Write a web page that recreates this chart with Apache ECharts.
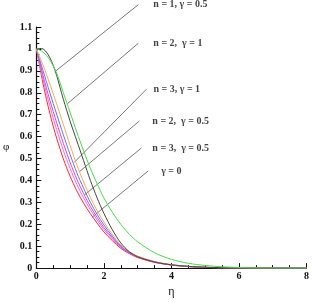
<!DOCTYPE html>
<html><head><meta charset="utf-8">
<script src="https://cdn.jsdelivr.net/npm/echarts@6/dist/echarts.min.js"></script>
<style>html,body{margin:0;padding:0;background:#fff}#c{width:312px;height:303px}</style>
</head><body><div id="c"></div>
<script>
var eta = [0,0.1,0.2,0.3,0.4,0.5,0.6,0.8,1.0,1.2,1.4,1.6,1.8,2.0,2.25,2.5,2.75,3,3.5,4,4.5,5,5.5,6,7,8];
var phiRed     = [1,0.92,0.84,0.77,0.706,0.647,0.593,0.498,0.419,0.352,0.296,0.248,0.205,0.165,0.125,0.09,0.066,0.048,0.026,0.014,0.007,0.003,0.0015,0.0007,0,0];
var phiPink    = [1,0.93,0.861,0.798,0.74,0.684,0.632,0.537,0.454,0.382,0.32,0.267,0.219,0.176,0.133,0.094,0.068,0.05,0.027,0.014,0.007,0.003,0.0015,0.0007,0,0];
var phiMagenta = [1,0.939,0.878,0.82,0.766,0.714,0.664,0.569,0.482,0.405,0.34,0.281,0.231,0.185,0.139,0.097,0.07,0.051,0.028,0.015,0.0075,0.0035,0.0015,0.0007,0,0];
var phiBlue    = [1,0.95,0.9,0.85,0.8,0.751,0.703,0.608,0.518,0.435,0.364,0.3,0.245,0.197,0.146,0.101,0.072,0.053,0.029,0.015,0.0075,0.0035,0.0015,0.0007,0,0];
var phiOrange  = [1,0.963,0.925,0.884,0.84,0.795,0.75,0.655,0.56,0.47,0.393,0.322,0.262,0.21,0.155,0.106,0.075,0.055,0.03,0.016,0.008,0.004,0.002,0.001,0,0];
var phiBlack   = [1,1.002,1.0,0.985,0.96,0.925,0.88,0.77,0.67,0.58,0.49,0.40,0.32,0.25,0.175,0.115,0.075,0.052,0.028,0.015,0.008,0.004,0.002,0.001,0,0];
var phiGreen   = [1,0.995,0.985,0.97,0.95,0.922,0.89,0.80,0.71,0.62,0.535,0.455,0.385,0.32,0.255,0.2,0.155,0.12,0.07,0.04,0.022,0.012,0.006,0.003,0,0];

var curveNames  = ['red','pink','magenta','blue','orange','black','green'];
var curveValues = [phiRed, phiPink, phiMagenta, phiBlue, phiOrange, phiBlack, phiGreen];
var curveColors = ['#ff2a2a','#ff66cc','#cc44ff','#5577ff','#ffaa44','#444444','#44dd44'];

var xTicks = ['0','2','4','6','8'];

// annotation leaders: [label, [eta_top, phi_top], [eta_curve, phi_curve]]
var labelTexts = ['n = 1, \u03b3 = 0.5','n = 2,  \u03b3 = 1','n = 3, \u03b3 = 1','n = 2,  \u03b3 = 0.5','n = 3,  \u03b3 = 0.5','\u03b3 = 0'];
var leaderTop   = [[3.02,1.202],[3.02,1.026],[3.26,0.816],[3.05,0.671],[3.11,0.548],[3.31,0.443]];
var leaderEnd   = [[0.54,0.895],[0.92,0.75],[1.12,0.482],[1.27,0.439],[1.42,0.333],[1.65,0.232]];
var labelGap    = [15,15,7,13,11,13];

var series = [];
curveValues.forEach(function(vals, i){
  series.push({
    type:'line', name:curveNames[i], smooth:0.3, showSymbol:false, symbol:'none',
    lineStyle:{color:curveColors[i], width:1}, z:3,
    data: eta.map(function(e,j){return [e, vals[j]];})
  });
});
labelTexts.forEach(function(t,i){
  series.push({
    type:'line', clip:false, symbol:'none', silent:true, z:2,
    lineStyle:{color:'#555', width:0.8},
    data:[leaderTop[i], leaderEnd[i]]
  });
  series.push({
    type:'scatter', clip:false, symbolSize:0.01, silent:true, z:4,
    data:[leaderTop[i]],
    label:{show:true, position:'right', distance:labelGap[i], formatter:t,
      fontFamily:'Liberation Serif', fontSize:10, fontWeight:'bold', color:'#111'}
  });
});

var chart = echarts.init(document.getElementById('c'), null, {renderer:'canvas'});
chart.setOption({
  animation:false,
  grid:{left:33.5, right:2.5, top:27, bottom:25, containLabel:false},
  xAxis:{
    type:'value', min:0, max:8, interval:2,
    name:'\u03b7', nameLocation:'middle', nameGap:14,
    nameTextStyle:{fontFamily:'Liberation Serif', fontSize:12, color:'#111'},
    axisLine:{show:true, onZero:false, lineStyle:{color:'#111', width:1.2}},
    axisTick:{show:true, inside:true, length:5, lineStyle:{color:'#111'}},
    minorTick:{show:true, splitNumber:4, length:3, lineStyle:{color:'#111'}},
    splitLine:{show:false},
    axisLabel:{margin:3, fontFamily:'Liberation Serif', fontSize:10, fontWeight:'bold', color:'#111',
      formatter:function(v){return xTicks[Math.round(v/2)];}}
  },
  yAxis:{
    type:'value', min:0, max:1.1, interval:0.1,
    name:'\u03c6', nameLocation:'middle', nameGap:27, nameRotate:0,
    nameTextStyle:{fontFamily:'Liberation Serif', fontSize:11, color:'#111'},
    axisLine:{show:true, onZero:false, lineStyle:{color:'#111', width:1.2}},
    axisTick:{show:true, inside:true, length:5, lineStyle:{color:'#111'}},
    minorTick:{show:true, splitNumber:4, length:3, lineStyle:{color:'#111'}},
    splitLine:{show:false},
    axisLabel:{margin:4, fontFamily:'Liberation Serif', fontSize:10, fontWeight:'bold', color:'#111',
      formatter:function(v){return String(Math.round(v*10)/10);}}
  },
  series:series
});
</script></body></html>
